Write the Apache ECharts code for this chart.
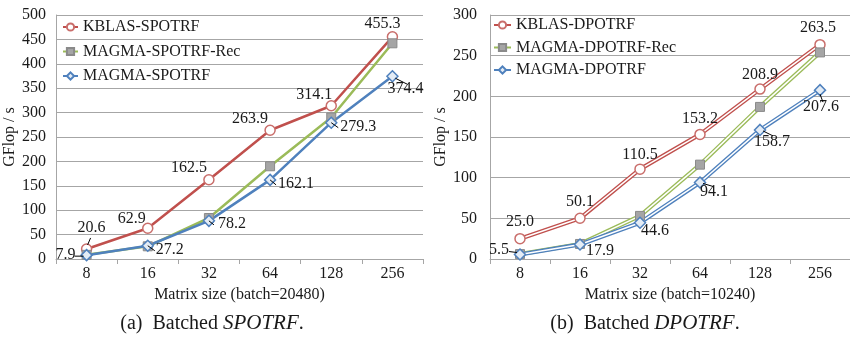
<!DOCTYPE html>
<html>
<head>
<meta charset="utf-8">
<script src="https://cdn.jsdelivr.net/npm/echarts@6/dist/echarts.min.js"></script>
<style>
html,body{margin:0;padding:0;background:#fff;}
#c{width:850px;height:339px;}
</style>
</head>
<body>
<div id="c"></div>
<script>
// ---- data ----
const categories = ['8', '16', '32', '64', '128', '256'];
const kblasS    = [20.6, 62.9, 162.5, 263.9, 314.1, 455.3];
const magmaRecS = [8.5, 26, 84, 190, 290, 442];
const magmaS    = [7.9, 27.2, 78.2, 162.1, 279.3, 374.4];
const kblasD    = [25.0, 50.1, 110.5, 153.2, 208.9, 263.5];
const magmaRecD = [6, 18.5, 53, 116, 187, 254];
const magmaD    = [5.5, 17.9, 44.6, 94.1, 158.7, 207.6];
const yMaxS = 500, yMaxD = 300, yStep = 50;
const namesS = ['KBLAS-SPOTRF', 'MAGMA-SPOTRF-Rec', 'MAGMA-SPOTRF'];
const namesD = ['KBLAS-DPOTRF', 'MAGMA-DPOTRF-Rec', 'MAGMA-DPOTRF'];
const xName = ['Matrix size (batch=20480)', 'Matrix size (batch=10240)'];
const yName = 'GFlop / s';

// ---- label offsets and leader-line offsets (style, pixels relative to each point) ----
const offKS = [[5,-4],[-16,7],[-20,5],[-20,5],[-17,6],[-10,4]];
const offMS = [[-21,17],[22,21],[23,20],[26,21],[27,21],[13,30]];
const offKD = [[0,0],[0,0],[0,2],[0,1],[0,2],[-2,0]];
const offMD = [[-21,13],[20,24],[15,25],[14,27],[12,29],[1,34]];
const leadKS = [[1,-4,4,-11], null, null, null, null, null];
const leadMS = [[-12,1,-3,1],[0,0,7,5],[0,0,5,4],[0,0,6,5],[0,0,7,5],[3,2,15,8]];
const leadMD = [[-11,-3,-3,-2], null, null, [3,1,13,4], [3,1,13,6], [0,4,3,12]];

const FONT = 'Liberation Serif';
const RED = '#C0504D', GREEN = '#9BBB59', BLUE = '#4F81BD';
const GRID = '#A6A6A6';
const TXT = '#1a1a1a';

const markRed = {symbol:'circle', symbolSize:10, itemStyle:{color:'#fff', borderColor:'#C96E6B', borderWidth:1.5}};
const markGreen = {symbol:'rect', symbolSize:9, itemStyle:{color:'#A5A5A5', borderColor:'#8a8a8a', borderWidth:1}};
const markBlue = {symbol:'diamond', symbolSize:11, itemStyle:{color:'#e4ecf5', borderColor:BLUE, borderWidth:1.5}};

function labelCfg(show) {
  return {show: show, position:'top', distance:3, color:TXT, fontFamily:FONT, fontSize:16,
          formatter: function (p) { return Number(p.value).toFixed(1); }};
}
function layoutFn(off) {
  return function (p) { const o = off[p.dataIndex]; return {dx:o[0], dy:o[1]}; };
}
function leaderSeries(axisIdx, values, leads) {
  return {
    type:'custom', xAxisIndex:axisIdx, yAxisIndex:axisIdx, silent:true, z:5, animation:false,
    data: values.map(function (v, i) { return [i, v]; }),
    renderItem: function (params, api) {
      const l = leads[params.dataIndex];
      if (!l) return null;
      const p = api.coord([api.value(0), api.value(1)]);
      return {type:'line', shape:{x1:p[0]+l[0], y1:p[1]+l[1], x2:p[0]+l[2], y2:p[1]+l[3]},
              style:{stroke:'#000', lineWidth:1}};
    }
  };
}

const series = [];
// left chart - single lines
[[kblasS, namesS[0], RED, markRed, offKS],
 [magmaRecS, namesS[1], GREEN, markGreen, null],
 [magmaS, namesS[2], BLUE, markBlue, offMS]].forEach(function (s) {
  const o = {
    type:'line', name:s[1], data:s[0], xAxisIndex:0, yAxisIndex:0,
    symbol:s[3].symbol, symbolSize:s[3].symbolSize, itemStyle:s[3].itemStyle,
    lineStyle:{color:s[2], width:2.5}, color:s[2], showSymbol:true,
    label:labelCfg(!!s[4]), animation:false
  };
  if (s[4]) o.labelLayout = layoutFn(s[4]);
  series.push(o);
});
// right chart - double lines
[[kblasD, namesD[0], RED, markRed, offKD],
 [magmaRecD, namesD[1], GREEN, markGreen, null],
 [magmaD, namesD[2], BLUE, markBlue, offMD]].forEach(function (s) {
  series.push({
    type:'line', name:s[1], data:s[0], xAxisIndex:1, yAxisIndex:1,
    symbol:s[3].symbol, symbolSize:s[3].symbolSize, itemStyle:s[3].itemStyle,
    lineStyle:{color:s[2], width:4.2}, color:s[2], showSymbol:false, animation:false
  });
  const o = {
    type:'line', name:s[1] + ' ', data:s[0], xAxisIndex:1, yAxisIndex:1,
    symbol:s[3].symbol, symbolSize:s[3].symbolSize, itemStyle:s[3].itemStyle,
    lineStyle:{color:'#fff', width:1.5}, showSymbol:true,
    label:labelCfg(!!s[4]), animation:false
  };
  if (s[4]) o.labelLayout = layoutFn(s[4]);
  series.push(o);
});
series.push(leaderSeries(0, kblasS, leadKS));
series.push(leaderSeries(0, magmaS, leadMS));
series.push(leaderSeries(1, magmaD, leadMD));

function xAxisCfg(i) {
  return {
    type:'category', gridIndex:i, data:categories, boundaryGap:true,
    axisLine:{lineStyle:{color:GRID}},
    axisTick:{show:true, length:5, lineStyle:{color:GRID}},
    axisLabel:{color:TXT, fontFamily:FONT, fontSize:16, margin:7},
    name:xName[i], nameLocation:'middle', nameGap:22,
    nameTextStyle:{color:TXT, fontFamily:FONT, fontSize:16}
  };
}
function yAxisCfg(i, max, margin, gap) {
  return {
    type:'value', gridIndex:i, min:0, max:max, interval:yStep,
    axisLine:{show:true, lineStyle:{color:GRID}},
    axisTick:{show:false},
    splitLine:{lineStyle:{color:GRID, width:1}},
    axisLabel:{color:TXT, fontFamily:FONT, fontSize:16, margin:margin},
    name:yName, nameLocation:'middle', nameGap:gap,
    nameTextStyle:{color:TXT, fontFamily:FONT, fontSize:16}
  };
}
function legendCfg(names, left, top, gap, w) {
  return {
    data:names, orient:'vertical', left:left, top:top, itemGap:gap,
    itemWidth:w, itemHeight:9, padding:0, selectedMode:false,
    textStyle:{color:TXT, fontFamily:FONT, fontSize:16, lineHeight:16}
  };
}
const rich = {
  a:{fontFamily:FONT, fontSize:20, fontWeight:'normal', color:TXT},
  b:{fontFamily:FONT, fontSize:21, fontWeight:'normal', fontStyle:'italic', color:TXT}
};

const option = {
  backgroundColor:'#fff',
  animation:false,
  grid:[
    {left:56, top:15, width:367, height:244},
    {left:490, top:15, width:367, height:244}
  ],
  xAxis:[xAxisCfg(0), xAxisCfg(1)],
  yAxis:[yAxisCfg(0, yMaxS, 10, 36), yAxisCfg(1, yMaxD, 13, 38)],
  legend:[
    legendCfg(namesS, 62, 19, 8.5, 15),
    legendCfg(namesD, 493, 17, 6.5, 17)
  ],
  title:[
    {text:'{a|(a)  Batched }{b|SPOTRF}{a|.}', left:212, top:313, textAlign:'center', padding:0,
     textStyle:{fontWeight:'normal', rich:rich}},
    {text:'{a|(b)  Batched }{b|DPOTRF}{a|.}', left:645, top:313, textAlign:'center', padding:0,
     textStyle:{fontWeight:'normal', rich:rich}}
  ],
  series:series
};
const chart = echarts.init(document.getElementById('c'), null, {renderer:'canvas'});
chart.setOption(option);
</script>
</body>
</html>
